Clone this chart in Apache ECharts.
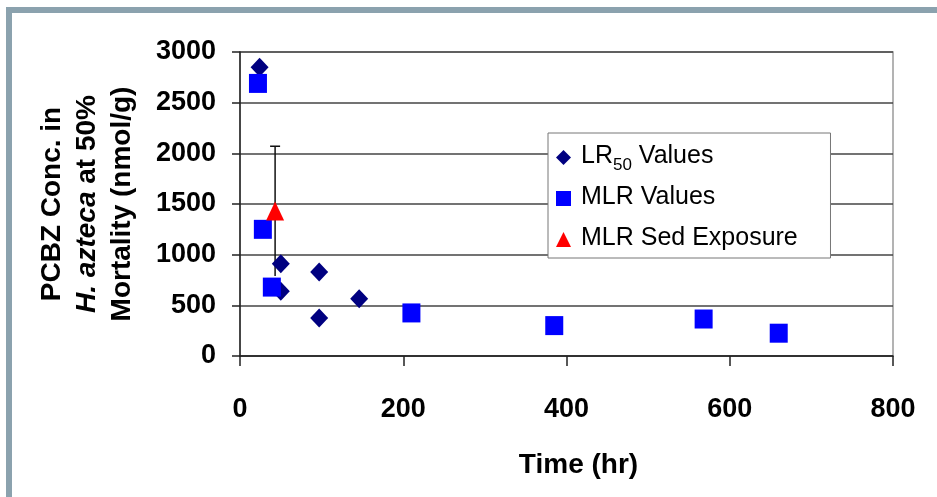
<!DOCTYPE html>
<html>
<head>
<meta charset="utf-8">
<script src="https://cdn.jsdelivr.net/npm/echarts@6/dist/echarts.min.js"></script>
<style>
  html, body { margin: 0; padding: 0; background: #fff; }
  #chart { width: 937px; height: 497px; }
</style>
</head>
<body>
<div id="chart"></div>
<script>
// LR50 values (diamonds)
const lrTime = [24, 50, 50, 97, 97, 146];
const lrConc = [2850, 910, 640, 830, 375, 565];
// MLR values (squares)
const mlrTime = [22, 28, 39, 210, 385, 568, 660];
const mlrConc = [2690, 1250, 680, 425, 300, 365, 225];
// MLR sediment exposure (triangle with error bar)
const sedTime = [43];
const sedConc = [1430];
const sedLow = [790];
const sedHigh = [2070];

const xTicks = [0, 200, 400, 600, 800];
const yTicks = [0, 500, 1000, 1500, 2000, 2500, 3000];

const FONT = '"Liberation Sans", Arial, sans-serif';

function pairs(xs, ys) {
  return xs.map((x, i) => [x, ys[i]]);
}

function renderChart() {
  const chart = echarts.init(document.getElementById('chart'));

  const legendRich = {
    f: { fontFamily: FONT, fontSize: 25, color: '#000', lineHeight: 28, verticalAlign: 'top', padding: [0, 0, 0, 5] },
    a: { fontFamily: FONT, fontSize: 25, color: '#000', lineHeight: 28, verticalAlign: 'top' },
    sub: { fontFamily: FONT, fontSize: 17, color: '#000', lineHeight: 16, padding: [16, 0, 0, 0] }
  };

  const option = {
    backgroundColor: '#fff',
    animation: false,
    graphic: [
      {
        // outer frame of the slide
        type: 'rect',
        shape: { x: 9, y: 10, width: 1000, height: 600 },
        style: { fill: 'none', stroke: '#8ba2ae', lineWidth: 6 },
        z: 0
      }
    ],
    grid: {
      left: 240,
      right: 44,
      top: 52,
      bottom: 141,
      show: true,
      borderColor: '#9a9a9a',
      borderWidth: 1.5,
      backgroundColor: '#fff'
    },
    legend: {
      orient: 'vertical',
      left: 548,
      top: 133,
      padding: [8, 28, 2, 8],
      itemGap: 8,
      itemWidth: 15,
      itemHeight: 15,
      backgroundColor: '#fff',
      borderColor: '#777',
      borderWidth: 1,
      data: [
        { name: 'LR50 Values', icon: 'diamond' },
        { name: 'MLR Values', icon: 'rect' },
        { name: 'MLR Sed Exposure', icon: 'triangle' }
      ],
      formatter: function (name) {
        if (name === 'LR50 Values') return '{f|LR}{sub|50}{a| Values}';
        return '{f|' + name + '}{sub| }';
      },
      textStyle: {
        fontFamily: FONT,
        fontSize: 25,
        color: '#000',
        rich: legendRich
      }
    },
    xAxis: {
      type: 'value',
      min: 0,
      max: 800,
      interval: 200,
      name: 'Time (hr)',
      nameLocation: 'middle',
      nameGap: 95,
      nameTextStyle: {
        fontFamily: FONT,
        fontSize: 28,
        fontWeight: 'bold',
        color: '#000',
        padding: [0, 0, 0, 24]
      },
      axisLine: { show: true, lineStyle: { color: '#222', width: 1.5 } },
      axisTick: { show: true, length: 10, lineStyle: { color: '#222', width: 1.5 } },
      axisLabel: {
        margin: 40,
        fontFamily: FONT,
        fontSize: 27,
        fontWeight: 'bold',
        color: '#000',
        formatter: v => (xTicks.includes(v) ? String(v) : '')
      },
      splitLine: { show: false }
    },
    yAxis: {
      type: 'value',
      min: 0,
      max: 3000,
      interval: 500,
      name: 'PCBZ Conc. in\n{i|H. azteca}{b| at 50%}\nMortality (nmol/g)',
      nameLocation: 'middle',
      nameGap: 100,
      nameTextStyle: {
        fontFamily: FONT,
        fontSize: 28,
        fontWeight: 'bold',
        color: '#000',
        lineHeight: 35,
        rich: {
          i: { fontFamily: FONT, fontSize: 28, fontWeight: 'bold', fontStyle: 'italic', color: '#000', lineHeight: 35 },
          b: { fontFamily: FONT, fontSize: 28, fontWeight: 'bold', color: '#000', lineHeight: 35 }
        }
      },
      axisLine: { show: true, lineStyle: { color: '#222', width: 1.5 } },
      axisTick: { show: true, length: 8, lineStyle: { color: '#222', width: 1.5 } },
      axisLabel: {
        margin: 24,
        fontFamily: FONT,
        fontSize: 27,
        fontWeight: 'bold',
        color: '#000',
        formatter: v => (yTicks.includes(v) ? String(v) : '')
      },
      splitLine: { show: true, lineStyle: { color: '#444', width: 1.5 } }
    },
    series: [
      {
        name: 'MLR Sed Error',
        type: 'custom',
        z: 1,
        silent: true,
        data: sedTime.map((t, i) => [t, sedLow[i], sedHigh[i]]),
        renderItem: function (params, api) {
          const lo = api.coord([api.value(0), api.value(1)]);
          const hi = api.coord([api.value(0), api.value(2)]);
          const cap = 5;
          const st = { stroke: '#111', lineWidth: 1.5 };
          return {
            type: 'group',
            children: [
              { type: 'line', shape: { x1: hi[0], y1: hi[1], x2: lo[0], y2: lo[1] }, style: st },
              { type: 'line', shape: { x1: hi[0] - cap, y1: hi[1], x2: hi[0] + cap, y2: hi[1] }, style: st }
            ]
          };
        }
      },
      {
        name: 'LR50 Values',
        type: 'scatter',
        z: 2,
        symbol: 'diamond',
        symbolSize: [18, 19],
        itemStyle: { color: '#000080', opacity: 1 },
        data: pairs(lrTime, lrConc)
      },
      {
        name: 'MLR Values',
        type: 'scatter',
        z: 3,
        symbol: 'rect',
        symbolSize: [18, 19],
        itemStyle: { color: '#0000ff', opacity: 1 },
        data: pairs(mlrTime, mlrConc)
      },
      {
        name: 'MLR Sed Exposure',
        type: 'scatter',
        z: 4,
        symbol: 'triangle',
        symbolSize: [18, 19],
        itemStyle: { color: '#ff0000', opacity: 1 },
        data: pairs(sedTime, sedConc)
      }
    ]
  };

  chart.setOption(option);
  window.addEventListener('resize', () => chart.resize());
}

renderChart();
</script>
</body>
</html>
